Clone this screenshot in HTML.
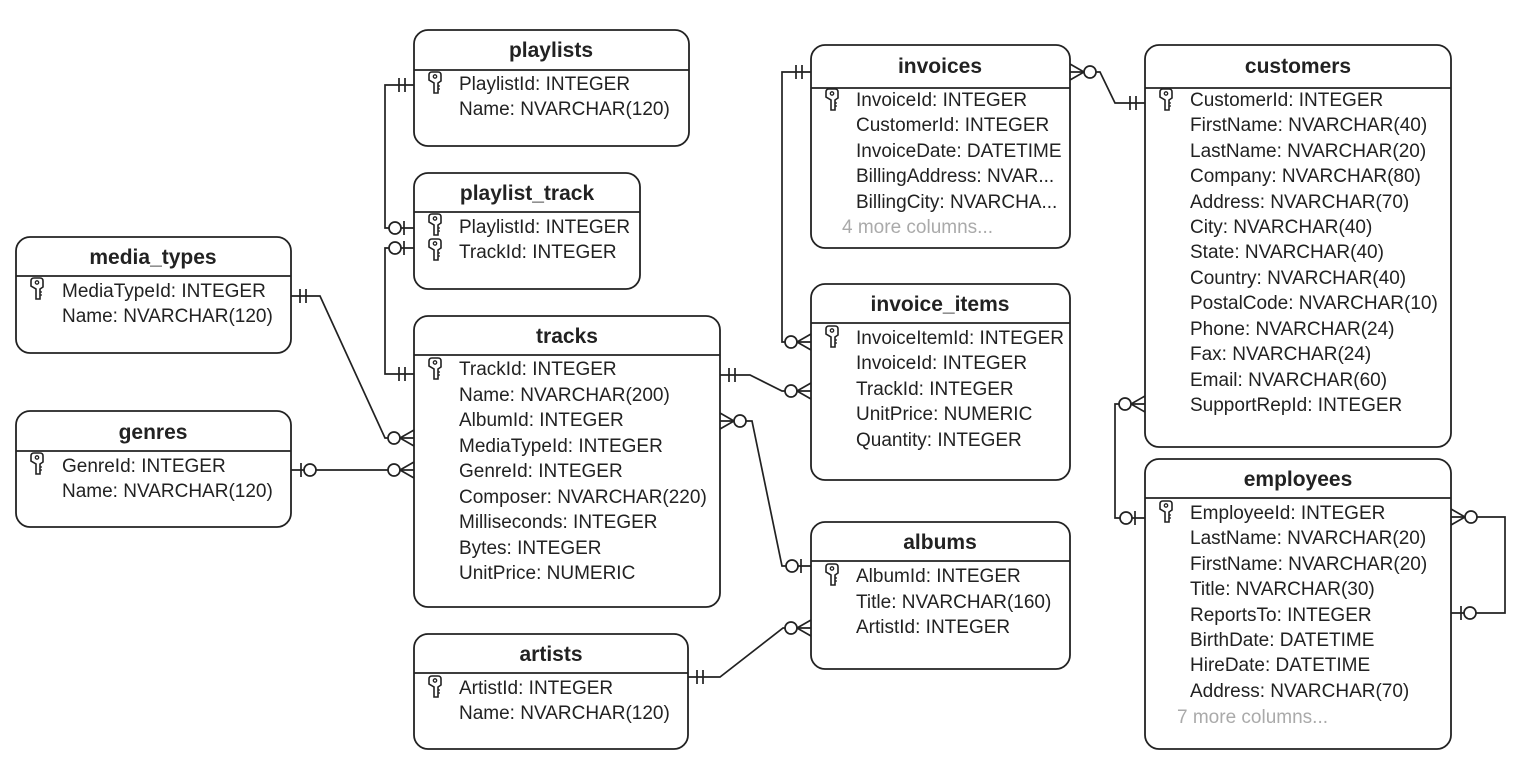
<!DOCTYPE html>
<html><head><meta charset="utf-8"><style>
html,body{margin:0;padding:0;background:#fff;}
svg{display:block;}
text{font-family:"Liberation Sans",Arial,sans-serif;fill:#222;}
.t{font-size:21px;font-weight:bold;text-anchor:middle;}
.r{font-size:19px;}
.g{font-size:19px;fill:#aaa;}
.box{fill:#fff;stroke:#222;stroke-width:1.8;}
.ln{stroke:#222;stroke-width:1.7;fill:none;}
</style></head><body>
<svg width="1528" height="772" viewBox="0 0 1528 772" xmlns="http://www.w3.org/2000/svg">
<defs>
<g id="key"><path d="M1 3 Q1 0 4 0 L10 0 Q13 0 13 3 L13 9 L10 11 L10 21 L6 21 L6 11 L1 8 Z" fill="#fff" stroke="#222" stroke-width="1.6"/><circle cx="7" cy="4.5" r="1.7" fill="none" stroke="#222" stroke-width="1.3"/><path d="M10 14 L12 14 M10 17 L12 17" stroke="#222" stroke-width="1.3"/></g>
</defs>
<g id="conns"></g>

<rect class="box" x="414" y="30" width="275" height="116" rx="14"/><line class="ln" x1="414" y1="70" x2="689" y2="70"/>
<text class="t" x="551" y="57">playlists</text>
<use href="#key" x="428" y="72"/>
<text class="r" x="459" y="90">PlaylistId: INTEGER</text>
<text class="r" x="459" y="115">Name: NVARCHAR(120)</text>

<rect class="box" x="414" y="173" width="226" height="116" rx="14"/><line class="ln" x1="414" y1="212" x2="640" y2="212"/>
<text class="t" x="527" y="200">playlist_track</text>
<use href="#key" x="428" y="214"/><use href="#key" x="428" y="239"/>
<text class="r" x="459" y="233">PlaylistId: INTEGER</text>
<text class="r" x="459" y="258">TrackId: INTEGER</text>

<rect class="box" x="16" y="237" width="275" height="116" rx="14"/><line class="ln" x1="16" y1="276" x2="291" y2="276"/>
<text class="t" x="153" y="264">media_types</text>
<use href="#key" x="30" y="278"/>
<text class="r" x="62" y="297">MediaTypeId: INTEGER</text>
<text class="r" x="62" y="322">Name: NVARCHAR(120)</text>

<rect class="box" x="16" y="411" width="275" height="116" rx="14"/><line class="ln" x1="16" y1="451" x2="291" y2="451"/>
<text class="t" x="153" y="439">genres</text>
<use href="#key" x="30" y="453"/>
<text class="r" x="62" y="472">GenreId: INTEGER</text>
<text class="r" x="62" y="497">Name: NVARCHAR(120)</text>

<rect class="box" x="414" y="316" width="306" height="291" rx="14"/><line class="ln" x1="414" y1="355" x2="720" y2="355"/>
<text class="t" x="567" y="343">tracks</text>
<use href="#key" x="428" y="358"/>
<text class="r" x="459" y="375">TrackId: INTEGER</text>
<text class="r" x="459" y="401">Name: NVARCHAR(200)</text>
<text class="r" x="459" y="426">AlbumId: INTEGER</text>
<text class="r" x="459" y="452">MediaTypeId: INTEGER</text>
<text class="r" x="459" y="477">GenreId: INTEGER</text>
<text class="r" x="459" y="503">Composer: NVARCHAR(220)</text>
<text class="r" x="459" y="528">Milliseconds: INTEGER</text>
<text class="r" x="459" y="554">Bytes: INTEGER</text>
<text class="r" x="459" y="579">UnitPrice: NUMERIC</text>

<rect class="box" x="414" y="634" width="274" height="115" rx="14"/><line class="ln" x1="414" y1="673" x2="688" y2="673"/>
<text class="t" x="551" y="661">artists</text>
<use href="#key" x="428" y="676"/>
<text class="r" x="459" y="694">ArtistId: INTEGER</text>
<text class="r" x="459" y="719">Name: NVARCHAR(120)</text>

<rect class="box" x="811" y="45" width="259" height="203" rx="14"/><line class="ln" x1="811" y1="88" x2="1070" y2="88"/>
<text class="t" x="940" y="73">invoices</text>
<use href="#key" x="825" y="89"/>
<text class="r" x="856" y="106">InvoiceId: INTEGER</text>
<text class="r" x="856" y="131">CustomerId: INTEGER</text>
<text class="r" x="856" y="157">InvoiceDate: DATETIME</text>
<text class="r" x="856" y="182">BillingAddress: NVAR...</text>
<text class="r" x="856" y="208">BillingCity: NVARCHA...</text>
<text class="g" x="842" y="233">4 more columns...</text>

<rect class="box" x="811" y="284" width="259" height="196" rx="14"/><line class="ln" x1="811" y1="323" x2="1070" y2="323"/>
<text class="t" x="940" y="311">invoice_items</text>
<use href="#key" x="825" y="326"/>
<text class="r" x="856" y="344">InvoiceItemId: INTEGER</text>
<text class="r" x="856" y="369">InvoiceId: INTEGER</text>
<text class="r" x="856" y="395">TrackId: INTEGER</text>
<text class="r" x="856" y="420">UnitPrice: NUMERIC</text>
<text class="r" x="856" y="446">Quantity: INTEGER</text>

<rect class="box" x="811" y="522" width="259" height="147" rx="14"/><line class="ln" x1="811" y1="561" x2="1070" y2="561"/>
<text class="t" x="940" y="549">albums</text>
<use href="#key" x="825" y="564"/>
<text class="r" x="856" y="582">AlbumId: INTEGER</text>
<text class="r" x="856" y="608">Title: NVARCHAR(160)</text>
<text class="r" x="856" y="633">ArtistId: INTEGER</text>

<rect class="box" x="1145" y="45" width="306" height="402" rx="14"/><line class="ln" x1="1145" y1="88" x2="1451" y2="88"/>
<text class="t" x="1298" y="73">customers</text>
<use href="#key" x="1159" y="89"/>
<text class="r" x="1190" y="106">CustomerId: INTEGER</text>
<text class="r" x="1190" y="131">FirstName: NVARCHAR(40)</text>
<text class="r" x="1190" y="157">LastName: NVARCHAR(20)</text>
<text class="r" x="1190" y="182">Company: NVARCHAR(80)</text>
<text class="r" x="1190" y="208">Address: NVARCHAR(70)</text>
<text class="r" x="1190" y="233">City: NVARCHAR(40)</text>
<text class="r" x="1190" y="258">State: NVARCHAR(40)</text>
<text class="r" x="1190" y="284">Country: NVARCHAR(40)</text>
<text class="r" x="1190" y="309">PostalCode: NVARCHAR(10)</text>
<text class="r" x="1190" y="335">Phone: NVARCHAR(24)</text>
<text class="r" x="1190" y="360">Fax: NVARCHAR(24)</text>
<text class="r" x="1190" y="386">Email: NVARCHAR(60)</text>
<text class="r" x="1190" y="411">SupportRepId: INTEGER</text>

<rect class="box" x="1145" y="459" width="306" height="290" rx="14"/><line class="ln" x1="1145" y1="498" x2="1451" y2="498"/>
<text class="t" x="1298" y="486">employees</text>
<use href="#key" x="1159" y="501"/>
<text class="r" x="1190" y="519">EmployeeId: INTEGER</text>
<text class="r" x="1190" y="544">LastName: NVARCHAR(20)</text>
<text class="r" x="1190" y="570">FirstName: NVARCHAR(20)</text>
<text class="r" x="1190" y="595">Title: NVARCHAR(30)</text>
<text class="r" x="1190" y="621">ReportsTo: INTEGER</text>
<text class="r" x="1190" y="646">BirthDate: DATETIME</text>
<text class="r" x="1190" y="671">HireDate: DATETIME</text>
<text class="r" x="1190" y="697">Address: NVARCHAR(70)</text>
<text class="g" x="1177" y="723">7 more columns...</text>
</svg>
<script>
(function(){
var g=document.getElementById('conns'),s='';
function P(d){s+='<path class="ln" d="'+d+'"/>';}
function one(e,y,d){s+='<path class="ln" d="M'+(e+d*9)+' '+(y-7)+'V'+(y+7)+'M'+(e+d*15)+' '+(y-7)+'V'+(y+7)+'"/>';}
function zone(e,y,d){s+='<path class="ln" d="M'+(e+d*10)+' '+(y-7)+'V'+(y+7)+'"/><circle class="ln" cx="'+(e+d*19)+'" cy="'+y+'" r="6" style="fill:#fff"/>';}
function zmany(e,y,d){s+='<path class="ln" d="M'+e+' '+(y-8)+'L'+(e+d*14)+' '+y+'L'+e+' '+(y+8)+'"/><circle class="ln" cx="'+(e+d*20)+'" cy="'+y+'" r="6" style="fill:#fff"/>';}
P('M414 85H385V228H414');one(414,85,-1);zone(414,228,-1);
P('M414 374H385V248H414');one(414,374,-1);zone(414,248,-1);
P('M291 296H320L385 438H414');one(291,296,1);zmany(414,438,-1);
P('M291 470H414');zone(291,470,1);zmany(414,470,-1);
P('M720 375H750L782 391H811');one(720,375,1);zmany(811,391,-1);
P('M720 421H752L782 566H811');zmany(720,421,1);zone(811,566,-1);
P('M688 677H720L783 628H811');one(688,677,1);zmany(811,628,-1);
P('M811 72H782V342H811');one(811,72,-1);zmany(811,342,-1);
P('M1070 72H1100L1115 103H1145');zmany(1070,72,1);one(1145,103,-1);
P('M1145 404H1115V518H1145');zmany(1145,404,-1);zone(1145,518,-1);
P('M1451 517H1505V613H1451');zmany(1451,517,1);zone(1451,613,1);
g.innerHTML=s;
})();
</script>
</body></html>
